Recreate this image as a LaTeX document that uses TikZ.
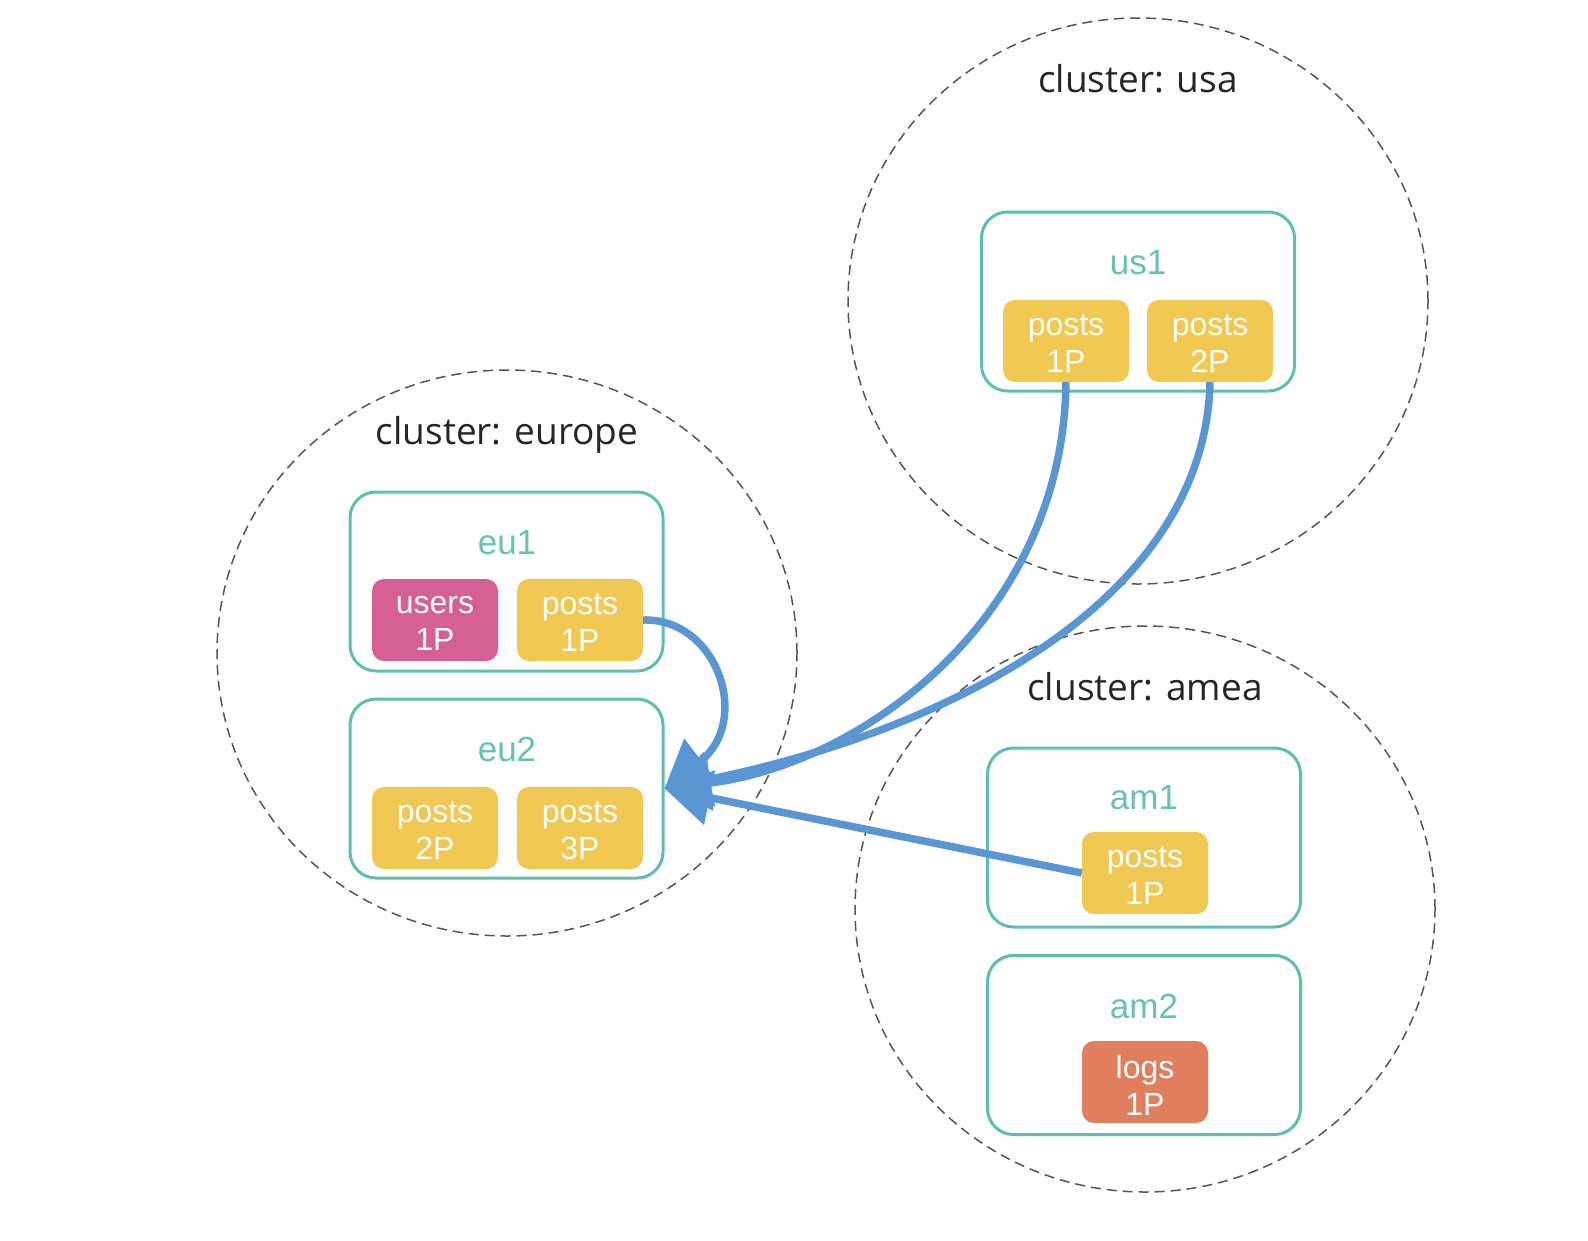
\documentclass[tikz,border=0pt]{standalone}
\usepackage{fontspec}
\setmainfont{Liberation Sans}
\newfontfamily\clfont{Open Sans}
\usetikzlibrary{shapes.geometric,arrows.meta}
\definecolor{teal1}{HTML}{5DBFAF}
\definecolor{tealtxt}{HTML}{66C2B3}
\definecolor{yel}{HTML}{F0C852}
\definecolor{pinkp}{HTML}{D66094}
\definecolor{orng}{HTML}{E07E5E}
\definecolor{blu}{HTML}{5B96D4}
\definecolor{dashg}{HTML}{555555}
\tikzset{
  cluster/.style={ellipse, draw=dashg, line width=1.5pt, dash pattern=on 10pt off 6pt, minimum width=580pt, minimum height=566pt, inner sep=0pt},
  cltext/.style={font=\clfont\fontsize{37}{44}\selectfont, text=black!85},
  server/.style={draw=teal1, line width=3pt, rounded corners=26pt, minimum width=313pt, minimum height=179pt, fill=white, inner sep=0pt},
  srvtext/.style={font=\fontsize{35}{40}\selectfont, text=tealtxt},
  part/.style={rounded corners=12pt, minimum width=126pt, minimum height=82pt, inner sep=0pt,
    label={[text=white, align=center, font=\fontsize{32}{37}\selectfont, yshift=-3pt, inner sep=0pt]center:#1}},
  flow/.style={draw=blu, line width=7.5pt, -{Triangle[length=46pt,width=54pt]}}
}
\begin{document}
\begin{tikzpicture}[x=1pt,y=-1pt]
\useasboundingbox[fill=white] (0,0) rectangle (1588,1240);
% clusters
\node[cluster] (cusa) at (1138,301) {};
\node[cluster] (ceu) at (507,653) {};
\node[cluster] (cam) at (1145,909) {};
\node[cltext] (lusa) at (1138,79) {cluster: usa};
\node[cltext] (leu) at (507,435) {cluster: europe};
\node[cltext] (lam) at (1145,687) {cluster: amea};
% servers
\node[server] (us1) at (1138,301.5) {};
\node[server] (eu1) at (506.5,581.5) {};
\node[server] (eu2) at (506.5,788.5) {};
\node[server] (am1) at (1144,837.5) {};
\node[server] (am2) at (1144,1045) {};
\node[srvtext] (tus1) at (1138,263) {us1};
\node[srvtext] (teu1) at (507,543) {eu1};
\node[srvtext] (teu2) at (507,749) {eu2};
\node[srvtext] (tam1) at (1144,798) {am1};
\node[srvtext] (tam2) at (1144,1006) {am2};
% partitions
\node[part={posts\\1P}, fill=yel] (pu1a) at (1066,341) {};
\node[part={posts\\2P}, fill=yel] (pu1b) at (1210,341) {};
\node[part={users\\1P}, fill=pinkp] (pe1a) at (435,620) {};
\node[part={posts\\1P}, fill=yel] (pe1b) at (580,620) {};
\node[part={posts\\2P}, fill=yel] (pe2a) at (435,828) {};
\node[part={posts\\3P}, fill=yel] (pe2b) at (580,828) {};
\node[part={posts\\1P}, fill=yel] (pam1) at (1145,873) {};
\node[part={logs\\1P}, fill=orng] (pam2) at (1145,1082) {};
% flows
\draw[flow] (pe1b.east) .. controls (718,618) and (752,722) .. (eu2.east);
\draw[flow] (pu1a.south) .. controls (1063,620) and (860,765) .. (eu2.east);
\draw[flow] (pu1b.south) .. controls (1205,600) and (950,730) .. (eu2.east);
\draw[flow] (pam1.west) -- (eu2.east);
\end{tikzpicture}
\end{document}
